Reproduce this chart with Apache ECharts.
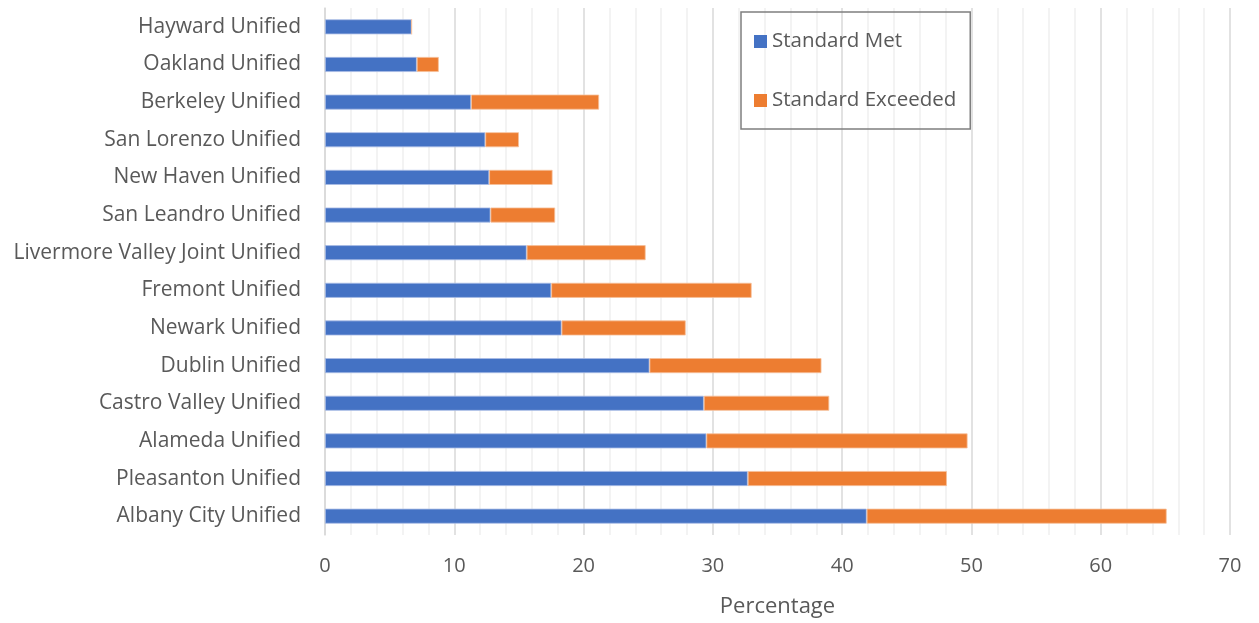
<!DOCTYPE html>
<html>
<head>
<meta charset="utf-8">
<script src="https://cdn.jsdelivr.net/npm/echarts@6/dist/echarts.min.js"></script>
<style>html,body{margin:0;padding:0;background:#fff}#c{width:1259px;height:623px}</style>
</head>
<body>
<div id="c"></div>
<script>
const categories = ["Hayward Unified","Oakland Unified","Berkeley Unified","San Lorenzo Unified","New Haven Unified","San Leandro Unified","Livermore Valley Joint Unified","Fremont Unified","Newark Unified","Dublin Unified","Castro Valley Unified","Alameda Unified","Pleasanton Unified","Albany City Unified"];
const standardMet = [6.7, 7.1, 11.3, 12.4, 12.7, 12.8, 15.6, 17.5, 18.3, 25.1, 29.3, 29.5, 32.7, 41.9];
const standardExceeded = [0, 1.7, 9.9, 2.6, 4.9, 5.0, 9.2, 15.5, 9.6, 13.3, 9.7, 20.2, 15.4, 23.2];
const seriesNames = ["Standard Met", "Standard Exceeded"];
const xTitle = "Percentage";

const FONT = "Open Sans";
const chart = echarts.init(document.getElementById('c'));
chart.setOption({
  animation: false,
  textStyle: {fontFamily: FONT},
  grid: {left: 325, right: 29, top: 8, bottom: 88},
  legend: {
    orient: 'vertical', left: 741, top: 12,
    padding: [19, 14, 18, 13],
    borderColor: '#7f7f7f', borderWidth: 1.5,
    itemWidth: 13, itemHeight: 13, itemGap: 38,
    icon: 'rect',
    itemStyle: {borderWidth: 0},
    textStyle: {fontFamily: FONT, fontSize: 20.5, lineHeight: 20, color: '#595959', padding: [0,0,0,0]},
    data: seriesNames
  },
  xAxis: {
    type: 'value', min: 0, max: 70, interval: 10,
    name: xTitle, nameLocation: 'middle', nameGap: 61,
    nameTextStyle: {fontFamily: FONT, fontSize: 22, color: '#595959'},
    axisLabel: {fontFamily: FONT, fontSize: 20, color: '#595959', margin: 21},
    axisLine: {show: false}, axisTick: {show: false},
    splitLine: {show: true, lineStyle: {color: '#d9d9d9', width: 1.5}},
    minorTick: {show: false, splitNumber: 5},
    minorSplitLine: {show: true, lineStyle: {color: '#efefef', width: 1.5}}
  },
  yAxis: {
    type: 'category', data: categories, inverse: true,
    axisLine: {show: true, lineStyle: {color: '#d9d9d9', width: 1.5}},
    axisTick: {show: false},
    axisLabel: {fontFamily: FONT, fontSize: 21, color: '#595959', margin: 24}
  },
  series: [
    {name: seriesNames[0], type: 'bar', stack: 's', data: standardMet, barWidth: 15,
     itemStyle: {color: '#4472c4', borderColor: '#a9bde6', borderWidth: 0.8}},
    {name: seriesNames[1], type: 'bar', stack: 's', data: standardExceeded, barWidth: 15,
     itemStyle: {color: '#ed7d31', borderColor: '#f6c09b', borderWidth: 0.8}}
  ]
});
</script>
</body>
</html>
